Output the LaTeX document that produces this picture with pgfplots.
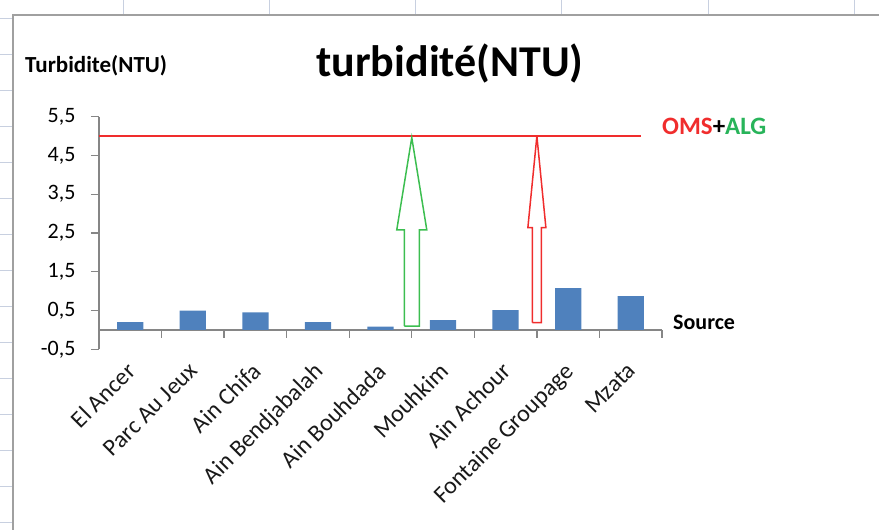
\documentclass[border=0pt]{standalone}
\usepackage{pgfplots}
\pgfplotsset{compat=1.18}
\usepackage{fontspec}
\setmainfont{Carlito}
\definecolor{barblue}{RGB}{79,129,189}
\definecolor{axisgray}{RGB}{134,134,134}
\definecolor{framegray}{RGB}{160,160,160}
\definecolor{gridmark}{RGB}{200,208,224}
\definecolor{limred}{RGB}{240,45,45}
\definecolor{arrgreen}{RGB}{60,190,80}
\definecolor{txtgreen}{RGB}{40,180,90}
\begin{document}
\begin{tikzpicture}[x=1pt,y=1pt]
\path[use as bounding box] (0,0) rectangle (879,530);
% spreadsheet background marks and chart frame
\foreach \k in {0,...,14} {\draw[gridmark, line width=1pt] (0,{511-36*\k}) -- (12,{511-36*\k});}
\foreach \k in {0,...,5} {\draw[gridmark, line width=1pt] ({123+146.3*\k},515) -- ({123+146.3*\k},530);}
\draw[framegray, line width=2pt] (13,0) -- (13,515) -- (879,515);
\begin{axis}[
  scale only axis, width=563pt, height=232.6pt,
  at={(99pt,180.7pt)}, anchor=south west,
  xmin=-0.5, xmax=8.5, ymin=-0.5, ymax=5.5,
  axis y line=left, axis x line=middle,
  axis line style={-, draw=axisgray, line width=1.3pt},
  tick align=outside, major tick length=8pt,
  ytick={-0.5,0.5,1.5,2.5,3.5,4.5,5.5},
  yticklabels={{-0,5},{0,5},{1,5},{2,5},{3,5},{4,5},{5,5}},
  ytick style={draw=axisgray, line width=1.3pt},
  yticklabel style={font=\fontsize{22}{22}\selectfont, text=black, xshift=-12pt},
  xtick={0,1,2,3,4,5,6,7,8},
  xticklabels={El Ancer,Parc Au Jeux,Ain Chifa,Ain Bendjabalah,Ain Bouhdada,Mouhkim,Ain Achour,Fontaine Groupage,Mzata},
  xtick style={draw=none},
  xticklabel style={font=\fontsize{24}{24}\selectfont, text=black!90, xshift=-5pt, yshift=-23pt, rotate=45, anchor=north east, inner sep=0pt},
  extra x ticks={0.5,1.5,2.5,3.5,4.5,5.5,6.5,7.5,8.5},
  extra x tick labels={},
  extra x tick style={xtick style={draw=axisgray, line width=1.3pt}},
  clip=false,
]
\addplot[ybar, bar width=0.42, fill=barblue, draw=none] coordinates {
  (0,0.20) (1,0.50) (2,0.45) (3,0.20) (4,0.085) (5,0.25) (6,0.51) (7,1.08) (8,0.87)};
\addplot[limred, line width=1.5pt] coordinates {(-0.5,5) (8.16,5)};
\addplot[arrgreen, line width=1.5pt, line join=miter] coordinates {
  (4.38,0.1) (4.62,0.1) (4.62,2.58) (4.74,2.58) (4.5,4.96) (4.26,2.58) (4.38,2.58) (4.38,0.1)};
\addplot[limred, line width=1.5pt, line join=miter] coordinates {
  (6.428,0.19) (6.572,0.19) (6.572,2.64) (6.644,2.64) (6.5,5.0) (6.356,2.64) (6.428,2.64) (6.428,0.19)};
\end{axis}
\node[anchor=base, inner sep=0pt, font=\fontsize{44}{44}\selectfont\bfseries] at (450,453) {turbidité(NTU)};
\node[anchor=base west, inner sep=0pt, font=\fontsize{23}{23}\selectfont\bfseries] at (25,457) {Turbidite(NTU)};
\node[anchor=base west, inner sep=0pt, font=\fontsize{22}{22}\selectfont\bfseries] at (673,200) {Source};
\node[anchor=base west, inner sep=0pt, font=\fontsize{25}{25}\selectfont\bfseries] at (662,395) {\textcolor{limred}{OMS}\textcolor{black}{+}\textcolor{txtgreen}{ALG}};
\end{tikzpicture}
\end{document}
